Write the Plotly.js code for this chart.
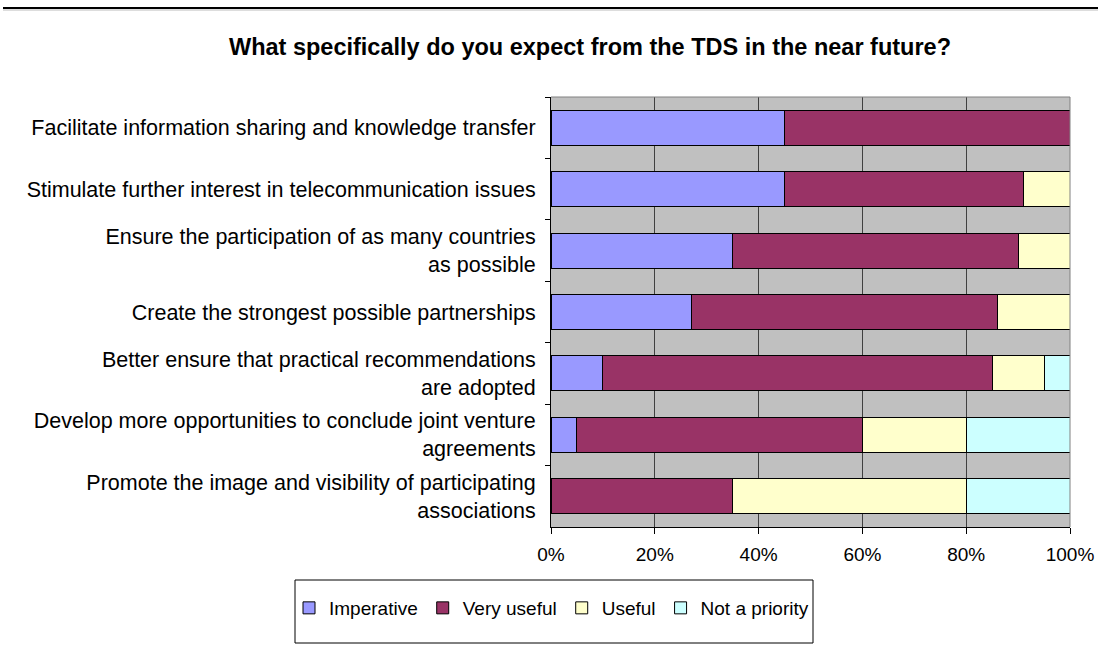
<!DOCTYPE html>
<html><head><meta charset="utf-8">
<script src="https://cdn.plot.ly/plotly-3.0.1.min.js"></script>
<style>html,body{margin:0;padding:0;background:#fff;}#chart{width:1101px;height:650px;}</style>
</head><body><div id="chart"></div>
<script>
const categories = [
  "Facilitate information sharing and knowledge transfer",
  "Stimulate further interest in telecommunication issues",
  "Ensure the participation of as many countries<br>as possible",
  "Create the strongest possible partnerships",
  "Better ensure that practical recommendations<br>are adopted",
  "Develop more opportunities to conclude joint venture<br>agreements",
  "Promote the image and visibility of participating<br>associations"
];
const seriesNames = ["Imperative", "Very useful", "Useful", "Not a priority"];
const imperative   = [0.45, 0.45, 0.35, 0.27, 0.10, 0.05, 0.00];
const veryUseful   = [0.55, 0.46, 0.55, 0.59, 0.75, 0.55, 0.35];
const useful       = [0.00, 0.09, 0.10, 0.14, 0.10, 0.20, 0.45];
const notPriority  = [0.00, 0.00, 0.00, 0.00, 0.05, 0.20, 0.20];
const xTickVals = [0, 0.2, 0.4, 0.6, 0.8, 1.0];
const xTickText = ["0%", "20%", "40%", "60%", "80%", "100%"];
const colors = ["#9999FF", "#993366", "#FFFFCC", "#CCFFFF"];

const allSeries = [imperative, veryUseful, useful, notPriority];
const traces = allSeries.map((vals, i) => ({
  type: "bar",
  orientation: "h",
  name: seriesNames[i],
  x: vals,
  y: categories,
  marker: {color: colors[i], line: {color: "#000", width: 1}},
  hoverinfo: "x+name"
}));

const L = 551, R = 1070, T = 97, B = 527, W = 1101, H = 650;
const px = v => (v - L) / (R - L);
const py = v => (B - v) / (B - T);
const FONT = "Liberation Sans, Arial, sans-serif";

const layout = {
  width: W, height: H,
  margin: {l: L, r: W - R, t: T, b: H - B, pad: 0},
  barmode: "stack",
  bargap: 0.43,
  paper_bgcolor: "#ffffff",
  plot_bgcolor: "#C0C0C0",
  font: {family: FONT, size: 20, color: "#000"},
  title: {
    text: "<b>What specifically do you expect from the TDS in the near future?</b>",
    font: {family: FONT, size: 23.5, color: "#000"},
    x: px(590), xref: "paper", xanchor: "center",
    y: 1 - 47 / H, yref: "container", yanchor: "middle"
  },
  xaxis: {
    range: [0, 1], tickvals: xTickVals, ticktext: xTickText,
    showgrid: true, gridcolor: "#404040", gridwidth: 1,
    zeroline: false, showline: true, linecolor: "#000", linewidth: 1,
    ticks: "outside", ticklen: 6, tickcolor: "#000", mirror: false,
    ticklabelstandoff: 4,
    tickfont: {family: FONT, size: 19}, fixedrange: true
  },
  yaxis: {
    type: "category", autorange: "reversed",
    showgrid: false, zeroline: false, showline: true, linecolor: "#000", linewidth: 1,
    ticks: "outside", ticklen: 5, tickcolor: "#000", tickson: "boundaries",
    ticklabelstandoff: 10,
    tickfont: {family: FONT, size: 21.5}, fixedrange: true
  },
  showlegend: true,
  legend: {
    orientation: "h", x: px(289), xanchor: "left", y: py(589), yanchor: "top",
    font: {family: FONT, size: 19}, bgcolor: "rgba(0,0,0,0)", borderwidth: 0,
    itemwidth: 30, traceorder: "normal"
  },
  shapes: [
    {type: "line", xref: "paper", yref: "paper", x0: px(3), x1: px(1098), y0: py(8), y1: py(8), line: {color: "#000", width: 2}},
    {type: "line", xref: "paper", yref: "paper", x0: px(3), x1: px(1098), y0: py(10), y1: py(10), line: {color: "#bbb", width: 1}},
    {type: "line", xref: "paper", yref: "paper", x0: 0, x1: 1, y0: 1, y1: 1, line: {color: "#808080", width: 1}},
    {type: "line", xref: "paper", yref: "paper", x0: 1, x1: 1, y0: 0, y1: 1, line: {color: "#808080", width: 1}},
    {type: "rect", xref: "paper", yref: "paper", x0: px(295), x1: px(813), y0: py(580), y1: py(643), line: {color: "#000", width: 1}, fillcolor: "rgba(0,0,0,0)"}
  ]
};

Plotly.newPlot("chart", traces, layout, {displayModeBar: false, staticPlot: true});
</script>
</body></html>
